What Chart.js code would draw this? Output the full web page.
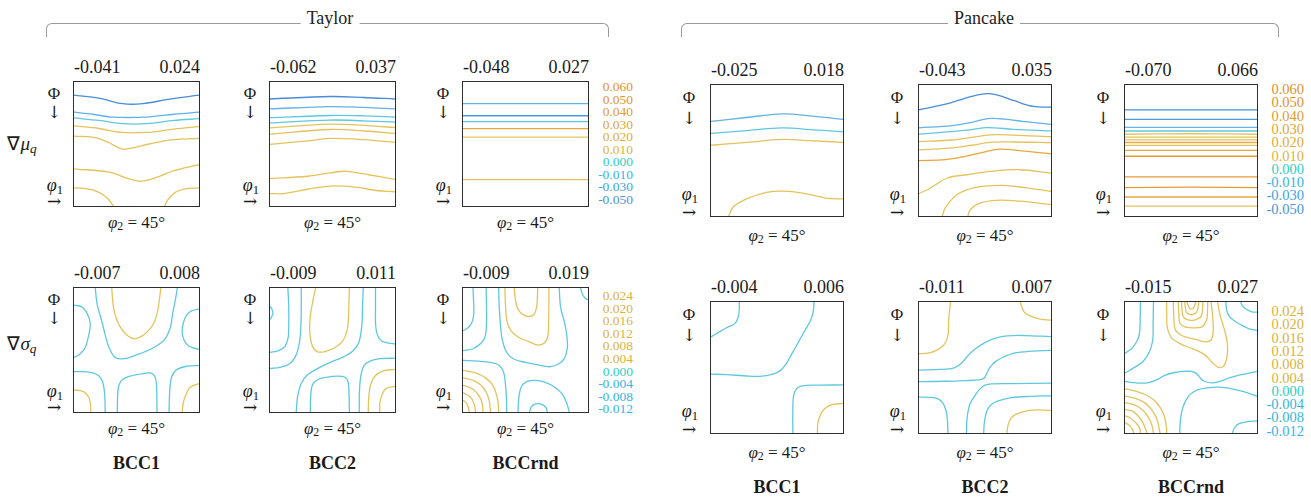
<!DOCTYPE html>
<html>
<head>
<meta charset="utf-8">
<script src="https://cdn.jsdelivr.net/npm/chart.js@4.4.0/dist/chart.umd.min.js"></script>
<style>
  body { margin: 0; background: #fff; width: 1311px; height: 499px; overflow: hidden;
         font-family: "Liberation Serif", "Times New Roman", serif; color: #1a1a1a; }
  #fig { position: relative; width: 1311px; height: 499px; }
  .t { position: absolute; white-space: nowrap; line-height: 1; }
  .box { position: absolute; border: 1px solid #2e2e2e; box-sizing: border-box; }
  .box canvas { display: block; }
  .brk { position: absolute; border: 1.2px solid #9a9a9a; border-bottom: none;
         border-radius: 6px 6px 0 0; box-sizing: border-box; }
  .arr { font-family: "DejaVu Serif", serif; }
  sub { font-size: 70%; vertical-align: -0.25em; line-height: 0; }
</style>
</head>
<body>
<div id="fig"></div>
<script>
// ---- labels ----
const crystals = ['BCC1', 'BCC2', 'BCCrnd'];
const taylorMuRange = [['-0.041', '0.024'], ['-0.062', '0.037'], ['-0.048', '0.027']];
const taylorSigRange = [['-0.007', '0.008'], ['-0.009', '0.011'], ['-0.009', '0.019']];
const pancakeMuRange = [['-0.025', '0.018'], ['-0.043', '0.035'], ['-0.070', '0.066']];
const pancakeSigRange = [['-0.004', '0.006'], ['-0.011', '0.007'], ['-0.015', '0.027']];
const muTicks = [0.060, 0.050, 0.040, 0.030, 0.020, 0.010, 0.000, -0.010, -0.030, -0.050];
const sigTicks = [0.024, 0.020, 0.016, 0.012, 0.008, 0.004, 0.000, -0.004, -0.008, -0.012];

// ---- contour lines: [level, [[x%, y% from top], ...]] ----
const taylorMuBCC1 = [
  [-0.05, [[0,10.6],[20,13],[39,17.5],[55,17.5],[75,14],[100,10.6]]],
  [-0.03, [[0,24.3],[15,26],[30,28.3],[58,28.3],[80,26],[100,24.3]]],
  [-0.01, [[0,29],[20,31],[39,33.6],[58,33.6],[80,31],[100,29.6]]],
  [0.02, [[0,35.4],[20,37.5],[38,40.7],[58,40.7],[80,38],[100,36]]],
  [0.01, [[0,43.6],[18,45],[28,49],[38,54],[45,53.5],[60,50],[75,47],[100,45.5]]],
  [0.01, [[0,70],[29,72.8],[42,77.5],[54,80],[66,77],[80,71.5],[100,66.7]]],
  [0.01, [[0,85.4],[10,86],[20,89],[27,94],[31.5,100]]],
  [0.01, [[100,85.4],[90,86],[81,89],[75,95],[72.5,100]]]
];
const taylorMuBCC2 = [
  [-0.05, [[0,13.7],[48,11.7],[75,12.5],[100,13.7]]],
  [-0.03, [[0,21.7],[48,19.8],[75,20.5],[100,21.7]]],
  [-0.01, [[0,28.8],[48,27],[75,27.3],[100,28.3]]],
  [-0.01, [[0,33],[48,30.7],[75,31.3],[100,32.3]]],
  [0.02, [[0,37],[48,34],[75,35],[100,36.7]]],
  [0.02, [[0,42],[48,38.3],[75,39.5],[100,41.5]]],
  [0.01, [[0,50.3],[30,47.5],[48,45.5],[75,46.5],[100,48.7]]],
  [0.01, [[0,77.8],[30,76],[48,73.3],[61,72],[80,75],[100,78.5]]],
  [0.01, [[0,90],[11,90],[30,86.5],[48,83.9],[70,85],[85,87.5],[100,88.6]]]
];
const taylorMuRnd = [
  [-0.03, [[0,17.5],[100,17.5]]],
  [-0.04, [[0,27.2],[100,27.2]]],
  [-0.01, [[0,32],[100,32]]],
  [0.03, [[0,37.6],[100,37.6]]],
  [0.02, [[0,44.4],[100,44.4]]],
  [0.01, [[0,78.8],[100,78.8]]]
];
const pancakeMuBCC1 = [
  [-0.03, [[0,27.8],[25,25],[54,22],[75,23.5],[100,26.3]]],
  [-0.01, [[0,37],[25,35],[54,32.8],[75,34],[100,35.8]]],
  [0.01, [[0,46],[25,44],[54,41.5],[75,42.5],[100,43.8]]],
  [0.01, [[13.4,100],[17,93],[27,87],[42,82],[54.5,81],[69.4,82.5],[86.8,86.3],[100,87]]]
];
const pancakeMuBCC2 = [
  [-0.05, [[0,18.9],[21,14.4],[36,9.8],[49,6.8],[58,7.3],[71.6,11.8],[86.7,16.4],[100,16.9]]],
  [-0.03, [[0,32.7],[25,31],[40,28.5],[52,25.7],[65,26],[80,28],[100,30]]],
  [-0.01, [[0,37.5],[21,35.8],[40,34],[51.5,32.5],[71.6,33.8],[100,35]]],
  [0.01, [[0,43.3],[25,42],[40,40],[54,38],[71.6,38.3],[100,39.5]]],
  [0.02, [[0,49.6],[25,48],[40,46],[54,43.8],[71.6,43.5],[100,44]]],
  [0.03, [[0,57.7],[20,57],[34,54.7],[50,51],[61.6,49],[80,50.5],[100,52.6]]],
  [0.02, [[0,82.9],[8.8,78.6],[21.4,71],[36.4,68.5],[54,66],[76.6,64.7],[100,67.3]]],
  [0.02, [[17.6,100],[20,93.7],[29,83.6],[44,78],[64,76.6],[81.7,78.6],[100,81.1]]],
  [0.02, [[37,100],[39,95],[46.5,90],[59,88],[76.6,88.7],[100,91.2]]]
];
const pancakeMuRnd = [
  [-0.05, [[0,19],[100,19]]],
  [-0.04, [[0,26.3],[100,26.3]]],
  [-0.03, [[0,32.3],[100,32.3]]],
  [-0.01, [[0,35.1],[100,35.1]]],
  [0.01, [[0,37.6],[50,37.2],[100,37.6]]],
  [0.02, [[0,39.8],[100,39.8]]],
  [0.02, [[0,41.9],[100,41.9]]],
  [0.03, [[0,43.9],[100,43.9]]],
  [0.02, [[0,46.1],[100,46.1]]],
  [0.03, [[0,49.9],[100,49.9]]],
  [0.04, [[0,54.4],[100,54.4]]],
  [0.04, [[0,70.2],[100,70.2]]],
  [0.04, [[0,78.4],[50,78],[100,78.4]]],
  [0.03, [[0,85.5],[100,85.5]]],
  [0.02, [[0,92.5],[100,92.5]]]
];
const taylorSigBCC1 = [
  [-0.004, [[0,13.8],[6,15],[9,18],[12,24],[13,30],[12,37],[9,48],[5,53],[0,56]]],
  [-0.004, [[17,0],[18.5,13],[22,26],[25,38],[28,48],[33,56],[40,57],[50,54],[62,49],[72,42],[77,32],[79,20],[81,10],[82.7,0]]],
  [0.004, [[30.2,0],[31.5,15],[34,25],[38,33],[43,38.5],[48.5,41],[54,39],[59,35],[64,28],[67,18],[68.5,8],[69.5,0]]],
  [-0.004, [[100,17],[94,18.5],[90,22],[87.5,28],[86.5,35],[88,42],[92,47],[100,49.5]]],
  [-0.004, [[0,67.5],[8,67.5],[15,68.5],[20,71],[23,76],[24.5,85],[25,100]]],
  [0.004, [[0,82.3],[6,83],[10,85.5],[12.5,90],[13.6,100]]],
  [-0.004, [[34.6,100],[35,85],[36,78],[39,73.5],[45,71],[55,69],[61,68.5],[64.5,71],[66,78],[66.4,100]]],
  [-0.004, [[76,100],[76.5,85],[78,72],[82,66],[89,63.3],[100,62.4]]],
  [0.004, [[86.6,100],[87.5,92],[90,85],[93,80],[100,77]]]
];
const taylorSigBCC2 = [
  [-0.004, [[0,14.8],[1.5,17],[2.4,20],[1.5,23],[0,25.4]]],
  [-0.004, [[14.3,0],[15,15],[15,30],[14.5,40],[12,47],[7,50.5],[0,51.9]]],
  [-0.004, [[25,0],[25,20],[24.5,35],[23,47],[20,56],[15,61.5],[8,64],[0,64.8]]],
  [0.004, [[36.5,0],[34,12],[32,25],[32,38],[34,47],[38,51.5],[45,51],[52,48],[58,43],[61.5,35],[62.7,25],[63.2,10],[63.5,0]]],
  [-0.004, [[74.6,0],[74,15],[73.5,30],[71,44],[66,51],[58,56],[48,60],[38,65],[30,70],[25,77],[22,88],[21,100]]],
  [-0.004, [[84.4,0],[84.4,15],[84.5,30],[86,38],[89,42.5],[95,44.5],[100,45]]],
  [-0.004, [[32.3,100],[32.5,88],[34,78],[38,74],[45,72],[54,71],[60,72],[62.5,76],[63.3,88],[63.5,100]]],
  [-0.004, [[71.4,100],[71.5,85],[72.5,72],[75,63],[80,59],[88,57],[100,56.6]]],
  [0.004, [[78.6,100],[79,88],[80.5,78],[84,71],[90,67],[100,65.6]]],
  [0.008, [[87.8,100],[88,92],[90,85],[93,81],[100,79.4]]]
];
const taylorSigRnd = [
  [-0.004, [[8,0],[8.5,12],[8.5,22],[7,28],[3.5,32.5],[0,34.5]]],
  [-0.004, [[18.5,0],[18.8,15],[18.8,28],[18,38],[15,44],[8,49],[0,50.5]]],
  [-0.004, [[28.5,0],[29,15],[30,30],[31.5,42],[35,52],[41,57.5],[50,60],[60,62],[69,63.5],[76,61.5],[81,57],[83.5,48],[83,38],[81,27],[78,15],[77,0]]],
  [0.004, [[33.5,0],[34,14],[35,26],[38,34],[44,39.5],[52,43],[60,46],[65.5,44],[68,38],[68.5,26],[68.7,12],[68.7,0]]],
  [0.008, [[41,0],[42,10],[44,17],[48,21.5],[53,23],[57,21],[59,15],[59.5,7],[59.8,0]]],
  [-0.004, [[94,0],[95.5,5],[98,8.5],[100,9.5]]],
  [-0.004, [[0,58.4],[12,59],[22,60],[29,62.5],[32.5,68],[34,78],[34.8,90],[35,100]]],
  [0.004, [[0,66.5],[10,68.5],[18,72.5],[23.5,78],[26.5,85],[28,92],[28.5,100]]],
  [0.008, [[0,72.5],[8,74.5],[14,78],[18.5,84],[21,91],[22,100]]],
  [0.012, [[0,78.5],[6,80.5],[10.5,84],[14,89],[15.5,94],[16,100]]],
  [0.016, [[0,84.5],[4,86.5],[7,89.5],[9,94],[10,100]]],
  [0.02, [[0,90.5],[2.5,92.5],[4,95.5],[5,100]]],
  [-0.004, [[44,100],[44.5,90],[46.5,80],[51,75.5],[57,74.5],[64,75.5],[72,79],[79,85],[83,93],[85,100]]],
  [-0.008, [[53.3,100],[54.5,96],[58,93.5],[62,93.5],[66,96],[67.5,100]]]
];
const pancakeSigBCC1 = [
  [-0.004, [[21.4,0],[21.4,6],[20.5,12],[18,16.5],[12,19.5],[6,23],[0,26.6]]],
  [-0.004, [[0,55],[12,55.5],[25,56.3],[37,56.8],[47,55],[53,52],[57,47],[61,40],[66,31],[71,22],[75.5,14],[77.5,7],[78,0]]],
  [-0.004, [[62,100],[62,85],[62.5,72],[64.5,66.5],[69,64],[80,63.5],[100,63.3]]],
  [0.004, [[80.6,100],[81,92],[83,86],[86,81.5],[91,78.5],[100,77.4]]]
];
const pancakeSigBCC2 = [
  [0.004, [[23.9,0],[23,8],[22.4,15],[22,25],[19.5,32],[14,36.5],[7,39],[0,39.4]]],
  [0.004, [[76.6,0],[78,4],[80,8],[85,11],[92,13],[100,13.8]]],
  [-0.004, [[0,52],[15,51.5],[26,50.5],[32,47],[37,41],[43,35.5],[50,31],[58,27.5],[67,25.8],[80,25.6],[100,26.4]]],
  [-0.004, [[0,60.8],[20,60.5],[35,60],[45.5,59.5],[49.5,58],[51.5,54],[54,49.5],[58,45.5],[64,42],[72,39],[85,37.5],[100,36.9]]],
  [-0.004, [[35.9,100],[36.5,88],[38.5,78],[42,72],[46,66.5],[50,63.5],[55,62.5],[70,62.3],[100,62]]],
  [-0.004, [[0,72.6],[8,72.8],[14,73.8],[18,77],[20.5,83],[21.5,90],[21.9,100]]],
  [-0.004, [[49,100],[49.5,92],[51.5,83],[55,78],[60,75.5],[70,73],[85,72],[100,71.6]]],
  [0.004, [[66.6,100],[67.5,94],[69.5,89],[73,86],[78,84],[86,82.5],[100,82.7]]]
];
const pancakeSigRnd = [
  [-0.004, [[11.7,0],[11.5,12],[11,24],[9,30],[5,35.5],[0,39.2]]],
  [-0.004, [[21.6,0],[21.3,15],[21,29],[18.5,38],[14,45],[7,50],[0,54.3]]],
  [0.004, [[31.6,0],[31.6,10],[32,19],[35,27],[42,32],[52,36],[60,40],[66,46],[71,50],[75,48.5],[77.5,40],[77.3,30],[75,20],[72,10],[70.1,0]]],
  [0.008, [[36.6,0],[37,12],[38,21],[42,25],[47,27],[55,29],[61.4,30.4],[65.5,28.5],[66.8,22],[66.5,12],[65.2,0]]],
  [0.012, [[40.3,0],[40.8,9],[41.5,16],[45,18.8],[49,19.6],[55,19.6],[59,18.5],[62,13],[62.5,6],[62.7,0]]],
  [0.016, [[42.8,0],[43.2,6],[44,11],[47,13.5],[51.5,14],[55,13],[57.7,11],[58.7,6],[58.9,0]]],
  [0.02, [[45.3,0],[45.7,4],[46.5,7.8],[49,9.5],[51.5,9.5],[54,8],[55.2,5],[55.9,0]]],
  [0.024, [[47,0],[48,3],[49.5,5.3],[51.5,5],[52.7,3],[53.5,0]]],
  [-0.004, [[76.4,0],[77,6],[79,11],[83,14.5],[88,17.5],[94,20.5],[100,21.6]]],
  [-0.004, [[87.6,0],[89,3],[92,5.5],[96,7.5],[100,7.8]]],
  [-0.004, [[0,60.6],[6,61.5],[12,62],[18,61.5],[24,59.5],[30,56],[37,54],[44,53],[50,53],[54,54.5],[57,58],[60,60.5],[66,61.8],[72,60.5],[79,58],[88,55.5],[100,53]]],
  [-0.004, [[41.5,100],[42,90],[44,80],[48,72],[54,67.5],[62,65.5],[72,65],[82,66.5],[90,68.5],[100,71.9]]],
  [-0.004, [[81.3,100],[83,96],[86,93],[92,91.5],[100,90.7]]],
  [0.004, [[0,66.3],[8,68],[16,71],[22,75],[27,81],[30,88],[31.3,95],[31.6,100]]],
  [0.008, [[0,71.9],[8,73.5],[15,77],[20,82],[24,89],[26.6,100]]],
  [0.012, [[0,76.9],[7,78.5],[13,82],[17,87],[20,93],[21.6,100]]],
  [0.016, [[0,81.9],[6,83.5],[10,87],[13.5,92],[16.7,100]]],
  [0.02, [[0,86.9],[4,88.5],[8,92],[11,96],[11.7,100]]],
  [0.024, [[0,92],[3,94],[5.5,97],[6.7,100]]]
];

// ---- colours ----
function lineColor(v) {
  if (v <= -0.045) return '#4a8cd8';
  if (v <= -0.035) return '#4f9ade';
  if (v <= -0.02) return '#64b2e8';
  if (v < 0) return '#5ec8e0';
  if (v <= 0.012 || (v < 0.03 && v % 0.004 < 1e-9)) return '#e4c35c';
  if (v <= 0.022) return '#e6b44a';
  if (v <= 0.032) return '#e8a63e';
  return '#e89a34';
}
function tickColor(v, sig) {
  if (v === 0) return '#2ecfc0';
  if (sig) return v > 0 ? '#dcb23a' : '#35b4e2';
  if (v <= -0.045) return '#4a92e0';
  if (v <= -0.02) return '#3ea2e2';
  if (v < 0) return '#34b4e6';
  if (v <= 0.012) return '#dcb43a';
  if (v <= 0.022) return '#e0ac30';
  if (v <= 0.032) return '#e2a630';
  if (v <= 0.042) return '#e29c2e';
  return '#e0922c';
}

const fig = document.getElementById('fig');

function addText(html, x, y, align, size, extra) {
  const d = document.createElement('div');
  d.className = 't';
  d.innerHTML = html;
  d.style.left = x + 'px';
  d.style.top = y + 'px';
  d.style.fontSize = size + 'px';
  const tx = align === 'left' ? '0' : align === 'right' ? '-100%' : '-50%';
  d.style.transform = 'translate(' + tx + ',-50%)';
  if (extra) Object.assign(d.style, extra);
  fig.appendChild(d);
  return d;
}

function drawPanel(lines, left, top, w, h) {
  const box = document.createElement('div');
  box.className = 'box';
  Object.assign(box.style, { left: left + 'px', top: top + 'px', width: w + 'px', height: h + 'px' });
  const cv = document.createElement('canvas');
  cv.width = w - 2; cv.height = h - 2;
  cv.style.width = (w - 2) + 'px'; cv.style.height = (h - 2) + 'px';
  box.appendChild(cv);
  fig.appendChild(box);
  new Chart(cv, {
    type: 'scatter',
    data: {
      datasets: lines.map(([lv, pts]) => ({
        data: pts.map(p => ({ x: p[0], y: p[1] })),
        showLine: true,
        borderColor: lineColor(lv),
        borderWidth: 1.3,
        pointRadius: 0,
        tension: 0.35,
        fill: false
      }))
    },
    options: {
      responsive: false,
      animation: false,
      events: [],
      layout: { padding: 0 },
      plugins: { legend: { display: false }, tooltip: { enabled: false } },
      scales: {
        x: { type: 'linear', min: 0, max: 100, display: false },
        y: { type: 'linear', min: 0, max: 100, reverse: true, display: false }
      }
    }
  });
}

const phi2 = '<i>φ</i><sub>2</sub> = 45°';

function drawRow(panels, xs, top, w, h, ranges, opt) {
  panels.forEach((lines, i) => {
    const x = xs[i];
    drawPanel(lines, x, top, w, h);
    addText(ranges[i][0], x + 1, top - opt.rangeDy, 'left', 18);
    addText(ranges[i][1], x + w, top - opt.rangeDy, 'right', 18);
    addText(phi2, x + w / 2, top + h + opt.phiDy, 'center', 17);
    const lx = x - opt.lx;
    addText('Φ', lx, top + opt.side[0], 'center', 17);
    addText('<span class="arr">↓</span>', lx, top + opt.side[1], 'center', 17);
    addText('<i>φ</i><sub>1</sub>', lx + 1, top + opt.side[2], 'center', 18);
    addText('<span class="arr">→</span>', lx, top + opt.side[3], 'center', 17);
  });
}

function drawTicks(ticks, right, y0, step, size, sig) {
  ticks.forEach((v, i) => {
    addText(v.toFixed(3), right, y0 + i * step, 'right', size, { color: tickColor(v, sig) });
  });
}

function drawBracket(label, x1, x2, y, cx) {
  const b = document.createElement('div');
  b.className = 'brk';
  Object.assign(b.style, { left: x1 + 'px', top: y + 'px', width: (x2 - x1) + 'px', height: '14px' });
  fig.appendChild(b);
  addText(label, cx, y - 5, 'center', 18, { background: '#fff', padding: '0 6px', color: '#222' });
}

// ---- layout ----
const taylorXs = [73, 269, 462];
const pancakeXs = [710, 918, 1124];
const taylorOpt = { rangeDy: 14, phiDy: 15, lx: 19, side: [11.5, 31, 104, 120] };
const pancakeOpt = { rangeDy: 14.5, phiDy: 18, lx: 21, side: [12.5, 33.5, 110, 128] };

drawBracket('Taylor', 46, 609, 23, 330);
drawBracket('Pancake', 681, 1279, 23, 984);

drawRow([taylorMuBCC1, taylorMuBCC2, taylorMuRnd], taylorXs, 81, 127, 126, taylorMuRange, taylorOpt);
drawRow([taylorSigBCC1, taylorSigBCC2, taylorSigRnd], taylorXs, 287, 127, 126, taylorSigRange, taylorOpt);
drawRow([pancakeMuBCC1, pancakeMuBCC2, pancakeMuRnd], pancakeXs, 84, 134, 133, pancakeMuRange, pancakeOpt);
drawRow([pancakeSigBCC1, pancakeSigBCC2, pancakeSigRnd], pancakeXs, 301, 134, 133, pancakeSigRange, pancakeOpt);

drawTicks(muTicks, 633, 87, 12.55, 13.5, false);
drawTicks(sigTicks, 633, 296, 12.6, 13.5, true);
drawTicks(muTicks, 1304, 89, 13.3, 14.5, false);
drawTicks(sigTicks, 1304, 311, 13.3, 14.5, true);

addText('∇<i>μ</i><sub><i>q</i></sub>', 22, 143, 'center', 19);
addText('∇<i>σ</i><sub><i>q</i></sub>', 22, 343, 'center', 19);

crystals.forEach((c, i) => {
  addText('<b>' + c + '</b>', taylorXs[i] + 63.5, 463, 'center', 18);
  addText('<b>' + c + '</b>', pancakeXs[i] + 67, 487, 'center', 18);
});
</script>
</body>
</html>
